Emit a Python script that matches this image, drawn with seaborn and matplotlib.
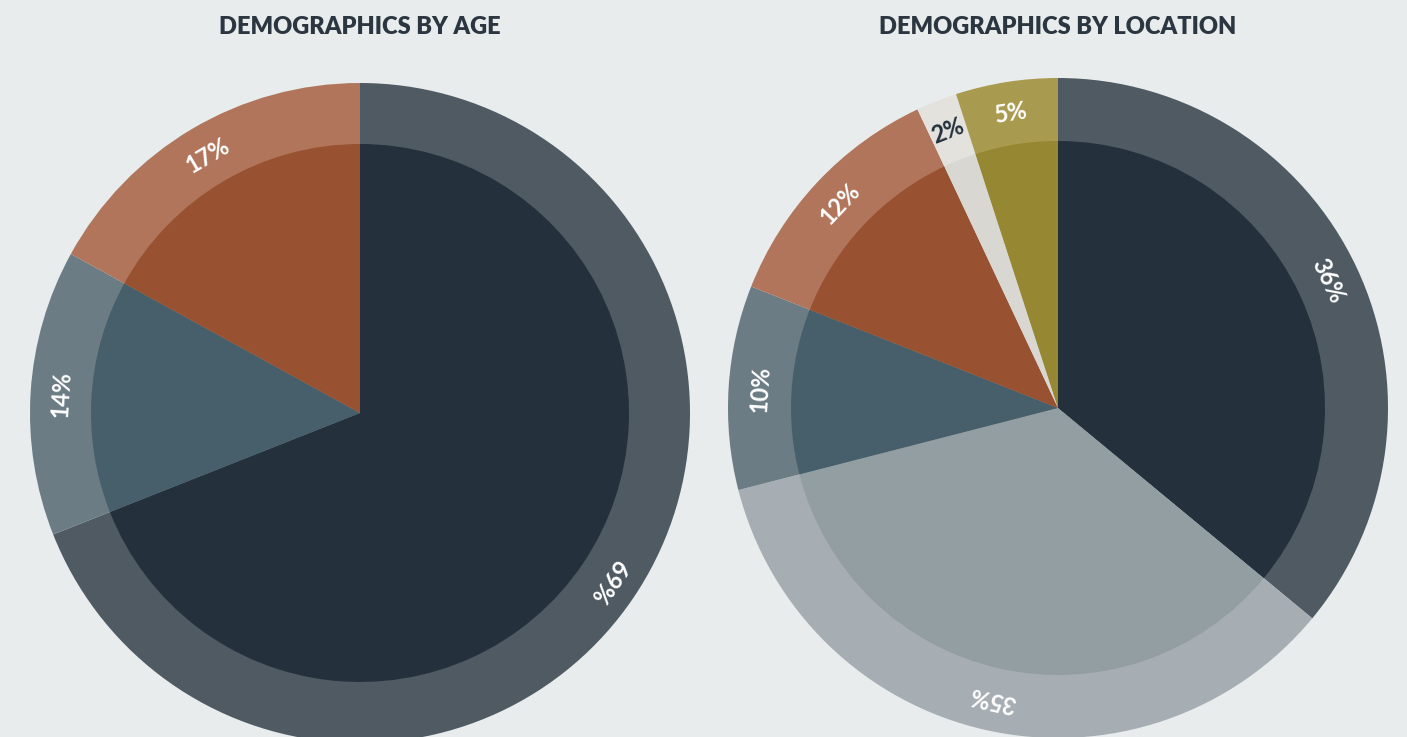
import numpy as np
import seaborn as sns
import matplotlib.pyplot as plt

# 数据
age_labels = ['69%', '14%', '17%']
age_values = [69, 14, 17]
age_outer = ['#4f5a63', '#6b7c84', '#b0755b']
age_inner = ['#24303c', '#475f6a', '#985232']

loc_labels = ['36%', '35%', '10%', '12%', '2%', '5%']
loc_values = [36, 35, 10, 12, 2, 5]
loc_outer = ['#4f5a63', '#a7aeb3', '#6b7c84', '#b0755b', '#e3e2dd', '#a89a4e']
loc_inner = ['#24303c', '#939ea2', '#475f6a', '#985232', '#d8d7d2', '#968832']
loc_text = ['white', 'white', 'white', 'white', '#24303c', 'white']

bg = '#e8eced'
sns.set_theme(style='white')
plt.rcParams['font.family'] = ['Lato', 'DejaVu Sans']

fig = plt.figure(figsize=(14.07, 7.37), dpi=100, facecolor=bg)
ax = fig.add_axes([0, 0, 1, 1])
ax.set_facecolor(bg)


def draw_ring_pie(vals, outer, inner, labels, txt_colors, center, r_out, r_in, title):
    ax.pie(vals, colors=outer, startangle=90, counterclock=False, center=center,
           radius=r_out, wedgeprops=dict(linewidth=0), frame=True)
    ax.pie(vals, colors=inner, startangle=90, counterclock=False, center=center,
           radius=r_in, wedgeprops=dict(linewidth=0), frame=True)
    tot = float(sum(vals))
    cum = np.cumsum([0] + list(vals))
    r_txt = (r_out + r_in) / 2
    for i, lab in enumerate(labels):
        mid = 90 - (cum[i] + vals[i] / 2) / tot * 360
        th = np.deg2rad(mid)
        x = center[0] + r_txt * np.cos(th)
        y = center[1] + r_txt * np.sin(th)
        ax.text(x, y, lab, rotation=mid - 90, rotation_mode='anchor',
                ha='center', va='center', color=txt_colors[i],
                fontsize=17, fontweight='bold')
    ax.text(center[0], 710, title, ha='center', va='center',
            fontsize=17, fontweight='heavy', color='#2b3640')


draw_ring_pie(age_values, age_outer, age_inner, age_labels, ['white'] * 3,
              (360, 324), 330, 269, 'DEMOGRAPHICS BY AGE')
draw_ring_pie(loc_values, loc_outer, loc_inner, loc_labels, loc_text,
              (1058, 329), 330, 267, 'DEMOGRAPHICS BY LOCATION')

ax.set_xlim(0, 1407)
ax.set_ylim(0, 737)
ax.set_aspect('equal')
ax.axis('off')

fig.savefig('out.png', dpi=100, facecolor=bg)
